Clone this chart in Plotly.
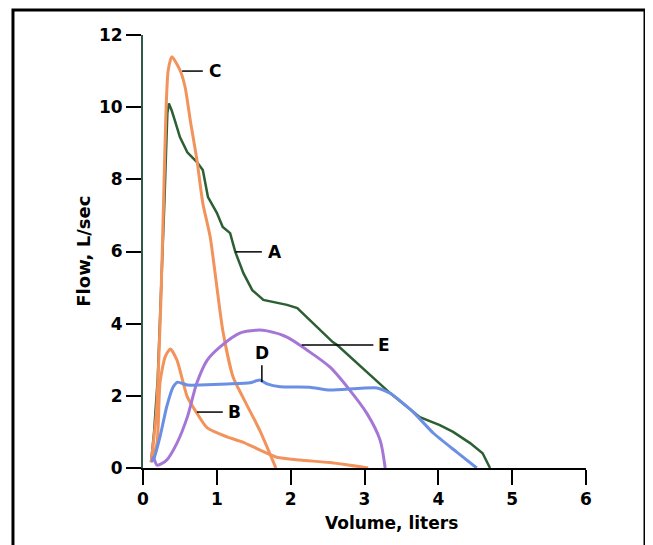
import plotly.graph_objects as go

# ---- data (Volume in liters, Flow in L/sec) ----
a_x = [0.11, 0.15, 0.20, 0.24, 0.27, 0.29, 0.31, 0.33, 0.35, 0.39, 0.43, 0.50, 0.60, 0.67, 0.73, 0.81, 0.88, 1.00, 1.08, 1.18, 1.25, 1.36, 1.48, 1.63, 1.80, 1.95, 2.09, 2.30, 2.57, 2.63, 2.98, 3.35, 3.75, 4.02, 4.20, 4.43, 4.60, 4.70]
a_y = [0.16, 1.00, 2.50, 4.50, 5.96, 7.37, 8.62, 9.84, 10.10, 9.90, 9.64, 9.17, 8.75, 8.60, 8.48, 8.26, 7.51, 7.07, 6.68, 6.51, 5.99, 5.40, 4.93, 4.66, 4.58, 4.52, 4.43, 4.02, 3.49, 3.41, 2.76, 2.07, 1.41, 1.19, 1.00, 0.69, 0.41, 0.00]

c_x = [0.11, 0.18, 0.24, 0.28, 0.31, 0.34, 0.39, 0.50, 0.57, 0.64, 0.73, 0.81, 0.91, 1.08, 1.22, 1.35, 1.58, 1.80]
c_y = [0.16, 1.50, 4.50, 7.50, 9.80, 11.00, 11.40, 11.03, 10.56, 9.64, 8.54, 7.34, 6.40, 3.82, 2.52, 1.97, 1.05, 0.00]

b_x = [0.11, 0.19, 0.23, 0.30, 0.37, 0.46, 0.60, 0.73, 0.87, 1.14, 1.35, 1.58, 1.81, 2.13, 2.53, 3.05]
b_y = [0.16, 0.69, 2.36, 3.08, 3.30, 2.99, 1.97, 1.52, 1.11, 0.86, 0.72, 0.50, 0.30, 0.22, 0.15, 0.00]

d_x = [0.11, 0.14, 0.23, 0.32, 0.41, 0.47, 0.60, 0.77, 1.14, 1.45, 1.58, 1.68, 1.86, 2.26, 2.53, 3.17, 3.35, 3.66, 3.93, 4.25, 4.52]
d_y = [0.20, 0.22, 0.86, 1.69, 2.25, 2.38, 2.30, 2.30, 2.33, 2.36, 2.44, 2.33, 2.25, 2.24, 2.16, 2.22, 2.07, 1.55, 0.97, 0.44, 0.00]

e_x = [0.12, 0.14, 0.19, 0.32, 0.46, 0.60, 0.73, 0.87, 1.04, 1.31, 1.54, 1.68, 1.95, 2.22, 2.53, 2.80, 3.03, 3.21, 3.28]
e_y = [0.18, 0.30, 0.08, 0.22, 0.69, 1.41, 2.36, 2.99, 3.35, 3.74, 3.82, 3.80, 3.63, 3.27, 2.80, 2.16, 1.52, 0.78, 0.00]

x_ticks = [0, 1, 2, 3, 4, 5, 6]
y_ticks = [0, 2, 4, 6, 8, 10, 12]

# curve labels: (text, leader x0, leader x1, leader y, label x, label y)
labels = [
    ("C", 0.53, 0.81, 11.0, 0.86, 11.0),
    ("A", 1.25, 1.61, 5.99, 1.66, 5.99),
    ("E", 2.15, 3.12, 3.41, 3.16, 3.41),
    ("B", 0.73, 1.08, 1.55, 1.12, 1.55),
]
d_label = ("D", 1.61, 2.38, 2.85, 3.19)

GREEN = "#2c5f33"
ORANGE = "#f2935c"
BLUE = "#6b8fe4"
PURPLE = "#a676d6"

fig = go.Figure()
fig.add_trace(go.Scatter(x=a_x, y=a_y, mode="lines", line=dict(color=GREEN, width=2.5), name="A"))
fig.add_trace(go.Scatter(x=c_x, y=c_y, mode="lines", line=dict(color=ORANGE, width=3, shape="spline", smoothing=0.6), name="C"))
fig.add_trace(go.Scatter(x=b_x, y=b_y, mode="lines", line=dict(color=ORANGE, width=3, shape="spline", smoothing=0.6), name="B"))
fig.add_trace(go.Scatter(x=e_x, y=e_y, mode="lines", line=dict(color=PURPLE, width=3, shape="spline", smoothing=0.8), name="E"))
fig.add_trace(go.Scatter(x=d_x, y=d_y, mode="lines", line=dict(color=BLUE, width=3, shape="spline", smoothing=0.5), name="D"))

lab_font = dict(family="DejaVu Sans", size=17, color="black", weight="bold")
for txt, x0, x1, yl, xt, yt in labels:
    fig.add_shape(type="line", x0=x0, x1=x1, y0=yl, y1=yl, xref="x", yref="y",
                  line=dict(color="black", width=1.5))
    fig.add_annotation(x=xt, y=yt, text=txt, showarrow=False, xanchor="left",
                       yanchor="middle", font=lab_font)
txt, xd, y0, y1, yt = d_label
fig.add_shape(type="line", x0=xd, x1=xd, y0=y0, y1=y1, xref="x", yref="y",
              line=dict(color="black", width=1.5))
fig.add_annotation(x=xd, y=yt, text=txt, showarrow=False, xanchor="center",
                   yanchor="middle", font=lab_font)

# axis titles
fig.add_annotation(x=-0.135, y=0.5, xref="paper", yref="paper", text="Flow, L/sec",
                   textangle=-90, showarrow=False, xanchor="center", yanchor="middle",
                   font=dict(family="DejaVu Sans", size=18, color="black", weight="bold"))
fig.add_annotation(x=0.56, y=-0.127, xref="paper", yref="paper", text="Volume, liters",
                   showarrow=False, xanchor="center", yanchor="middle",
                   font=dict(family="DejaVu Sans", size=17, color="black", weight="bold"))

# outer frame
fig.add_shape(type="rect", xref="paper", yref="paper", x0=-0.2935, x1=1.1332,
              y0=-0.3, y1=1.0577, line=dict(color="black", width=3), layer="below")

tick_font = dict(family="DejaVu Sans", size=17, color="black", weight="bold")
fig.update_xaxes(range=[0, 6], tickvals=x_ticks, ticks="outside", ticklen=15,
                 tickwidth=1.5, tickcolor="black", showline=True, linecolor="black",
                 linewidth=2, showgrid=False, zeroline=False, tickfont=tick_font)
fig.update_yaxes(range=[0, 12], tickvals=y_ticks, ticks="outside", ticklen=15,
                 tickwidth=1.5, tickcolor="black", showline=True, linecolor="#2f5a48",
                 linewidth=2, showgrid=False, zeroline=False, tickfont=tick_font)

fig.update_layout(width=645, height=537, showlegend=False,
                  margin=dict(l=135, r=67, t=27, b=77),
                  plot_bgcolor="white", paper_bgcolor="white")

fig.write_html("out.html")
